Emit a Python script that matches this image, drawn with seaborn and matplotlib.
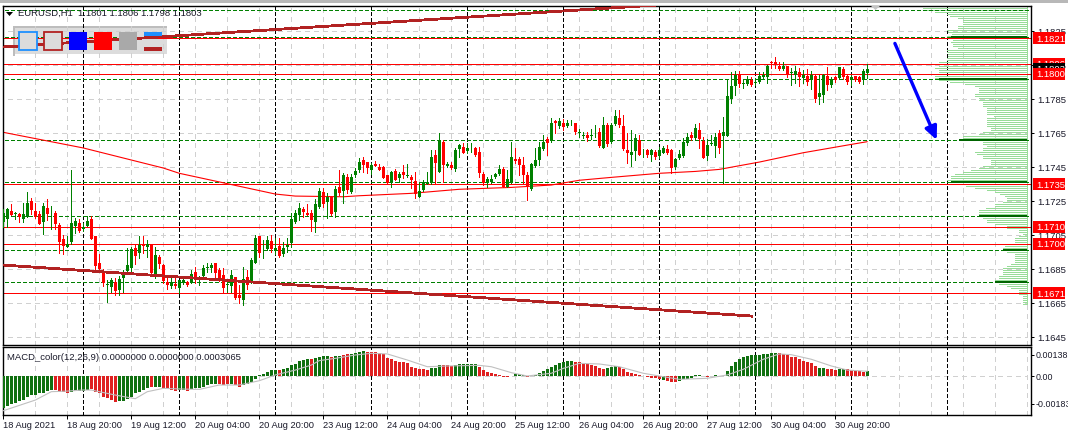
import numpy as np
import pandas as pd
import seaborn as sns
import matplotlib
matplotlib.use("Agg")
import matplotlib.pyplot as plt
from matplotlib.patches import Rectangle, Polygon, FancyArrowPatch

# prices in points (1e-5), one per H1 bar
opens = [117130,117146,117193,117177,117175,117146,117160,117252,117193,117175,117130,117211,117179,117183,117111,117026,116981,117011,117105,117120,
         117089,117105,117144,117046,116885,116842,116760,116744,116775,116728,116799,116840,116856,116975,116944,117001,116979,116995,116817,116920,
         116875,116775,116752,116764,116740,116772,116773,116772,116834,116801,116811,116860,116856,116885,116846,116815,116758,116754,116803,116699,
         116670,116805,116777,116889,117046,116968,116968,117017,116960,116987,116938,116981,117003,117130,117169,117205,117183,117179,117130,117218,
         117305,117246,117273,117187,117332,117312,117391,117305,117405,117434,117493,117479,117434,117470,117450,117454,117405,117366,117430,117387,
         117423,117397,117391,117368,117278,117317,117352,117360,117521,117425,117601,117460,117464,117438,117556,117568,117544,117562,117562,117540,
         117411,117356,117364,117391,117411,117442,117332,117366,117499,117499,117466,117405,117321,117460,117493,117556,117615,117607,117723,117693,
         117711,117693,117721,117711,117652,117636,117640,117636,117650,117658,117566,117699,117601,117705,117738,117693,117552,117523,117546,117611,
         117538,117552,117521,117542,117517,117536,117556,117552,117450,117503,117519,117591,117640,117621,117670,117607,117517,117587,117576,117650,
         117634,117634,117850,117928,117999,117940,117940,117964,117946,117954,117983,117983,118069,118069,118048,118030,118046,118007,117993,118013,
         117977,117987,117964,117987,117866,117875,117987,117934,117979,117973,118030,117987,117964,117987,117979,117964,118007]
highs = [117203,117209,117234,117189,117179,117238,117305,117267,117238,117193,117238,117262,117222,117195,117124,117052,117046,117434,117150,117144,
         117120,117164,117164,117046,116940,116850,116787,116797,116797,116811,116846,116973,116983,116993,117046,117046,117022,116995,116979,116934,
         116879,116803,116811,116797,116787,116811,116781,116846,116866,116811,116875,116885,116889,116885,116856,116856,116768,116846,116803,116758,
         116862,116846,116915,117050,117046,117022,117046,117052,117032,117036,117013,117032,117179,117199,117238,117214,117234,117199,117262,117326,
         117326,117297,117281,117340,117434,117418,117410,117410,117444,117503,117513,117479,117474,117489,117470,117458,117405,117430,117438,117425,
         117464,117468,117405,117425,117366,117376,117425,117552,117552,117650,117611,117483,117483,117566,117587,117591,117591,117591,117572,117572,
         117423,117395,117405,117419,117464,117454,117434,117601,117562,117513,117513,117425,117474,117562,117601,117640,117626,117738,117728,117738,
         117732,117728,117728,117713,117674,117660,117656,117674,117699,117679,117748,117709,117709,117787,117787,117758,117650,117670,117644,117640,
         117556,117558,117556,117552,117568,117576,117579,117556,117503,117552,117621,117650,117660,117705,117709,117626,117615,117640,117650,117670,
         117744,117964,118013,118018,118018,117968,117987,117979,117973,118013,118013,118052,118077,118097,118069,118069,118048,118032,118046,118032,
         118022,118026,118018,117991,117993,117999,118042,117979,117987,118042,118042,117999,117993,117987,117987,118026,118056]
lows = [117101,117097,117169,117146,117130,117130,117160,117175,117150,117116,117058,117140,117089,117089,116944,116940,116981,116999,117062,117069,
        117077,117105,117028,116846,116846,116752,116658,116719,116699,116699,116719,116826,116836,116879,116915,116944,116920,116811,116797,116856,
        116768,116732,116738,116738,116713,116764,116752,116768,116768,116758,116807,116836,116836,116787,116783,116717,116719,116719,116674,116650,
        116640,116732,116768,116885,116924,116915,116964,116954,116940,116924,116928,116954,116983,117124,117140,117160,117169,117073,117071,117209,
        117218,117150,117169,117160,117287,117238,117301,117301,117395,117425,117425,117419,117411,117458,117434,117389,117356,117336,117376,117362,
        117385,117391,117327,117268,117278,117313,117352,117352,117356,117425,117366,117454,117438,117430,117513,117532,117532,117542,117517,117395,
        117346,117336,117356,117385,117405,117332,117332,117356,117474,117405,117356,117258,117317,117454,117464,117552,117523,117601,117650,117679,
        117670,117689,117699,117646,117630,117621,117607,117615,117626,117572,117562,117576,117591,117699,117689,117552,117474,117458,117493,117523,
        117513,117513,117489,117497,117503,117532,117528,117415,117438,117497,117513,117581,117611,117611,117562,117503,117493,117581,117513,117536,
        117356,117634,117826,117875,117920,117915,117934,117928,117934,117948,117973,117944,118032,118032,118022,118022,117979,117934,117944,117928,
        117948,117934,117909,117836,117822,117836,117905,117920,117954,117968,117968,117940,117934,117960,117948,117940,117973]
closes = [117183,117203,117169,117183,117160,117175,117242,117199,117160,117116,117222,117175,117183,117116,117013,116987,116999,117120,117134,117075,
          117097,117134,117028,116870,116850,116768,116764,116787,116723,116793,116826,116875,116968,116928,116995,116987,117001,116826,116934,116881,
          116783,116760,116775,116754,116785,116787,116760,116821,116787,116807,116858,116866,116875,116826,116791,116742,116764,116815,116679,116681,
          116793,116760,116905,117034,116944,116969,117024,116968,116975,116928,116973,116993,117144,117179,117211,117189,117169,117140,117234,117311,
          117234,117273,117175,117320,117301,117405,117316,117391,117430,117483,117464,117444,117464,117458,117434,117389,117360,117423,117376,117411,
          117405,117403,117376,117293,117309,117364,117364,117509,117478,117611,117464,117472,117446,117552,117579,117536,117562,117566,117523,117419,
          117356,117380,117383,117411,117438,117332,117380,117513,117487,117466,117405,117332,117470,117493,117572,117601,117595,117713,117709,117723,
          117685,117711,117724,117660,117656,117640,117621,117640,117654,117576,117699,117585,117699,117752,117699,117558,117532,117542,117625,117523,
          117542,117521,117552,117513,117552,117566,117536,117448,117497,117528,117601,117630,117621,117679,117615,117507,117581,117591,117630,117562,
          117660,117870,117928,117993,117940,117944,117969,117934,117950,117987,117995,118046,118062,118050,118028,118046,117991,118013,118017,117983,
          117993,117952,117991,117850,117885,117993,117934,117971,117964,118038,117979,117952,117979,117964,117954,118017,118030]

# moving average, read at a few bars
ma_bars = [0,20,40,44,68,73,85,89,102,114,127,137,144,152,164,173,179,189,200,212,216]
ma_values = [1.17656,1.17564,1.17446,1.17415,1.17293,1.17281,1.17277,1.17283,1.17297,1.17321,1.17332,1.17346,1.17374,1.17391,1.17415,1.17426,1.17438,1.17481,1.17536,1.17585,1.17601]

# trend lines (bar, price)
upper_trend_bars = [0, 163.4]
upper_trend_prices = [1.18158, 1.18405]
lower_trend_bars = [-1, 187.2]
lower_trend_prices = [1.16877, 1.16575]

red_levels = [1.1821, 1.1806, 1.1800, 1.1735, 1.1710, 1.1700, 1.1671]
green_levels = [1.18375, 1.18214, 1.17968, 1.17608, 1.17365, 1.17162, 1.16962, 1.16774]
tag_levels = [1.1821, 1.1806, 1.1803, 1.1800, 1.1735, 1.1710, 1.1700, 1.1671]

# market profile, rows from the top of the chart downwards
profile_volume = [100,104,100,92,80,77,69,64,64,64,69,69,80,79,75,80,76,74,76,74,74,69,80,80,79,79,80,80,88,88,88,92,88,88,88,92,92,88,77,62,
                  52,48,48,48,52,52,48,48,44,44,44,40,40,40,40,33,40,40,40,40,40,36,36,44,48,64,64,68,44,44,40,44,44,52,50,44,44,36,36,36,
                  44,48,56,64,72,76,76,80,76,72,61,52,40,32,27,22,20,20,24,32,32,41,48,48,48,48,44,40,40,32,20,20,8,8,4,8,12,12,12,20,
                  22,24,24,20,12,12,12,12,12,16,20,24,24,24,24,28,28,32,32,28,20,16,8,8,8,4,4,4,4,4]
profile_top = 1.18399
profile_step = 0.0001176

# MACD histogram and signal, points (1e-5)
macd_values = [-212,-197,-186,-175,-164,-158,-140,-125,-125,-114,-110,-99,-92,-92,-103,-107,-114,-107,-101,-99,
               -96,-92,-85,-103,-114,-136,-147,-158,-169,-166,-164,-153,-136,-114,-103,-92,-81,-74,-70,-74,
               -77,-81,-92,-96,-92,-92,-96,-88,-81,-77,-74,-59,-55,-53,-55,-57,-55,-53,-57,-70,
               -61,-50,-39,-22,7,11,28,39,39,39,44,50,72,79,99,105,110,112,116,127,
               131,131,123,131,134,140,145,145,153,160,164,158,158,155,149,145,116,110,101,94,
               90,83,61,50,44,44,39,55,55,72,72,72,66,74,79,79,79,79,79,61,
               39,26,18,13,4,-9,-9,1,11,13,4,-9,2,9,22,33,44,61,72,83,
               94,96,99,92,92,79,79,70,66,53,44,53,61,66,57,44,28,18,15,9,
               2,-4,-11,-15,-22,-26,-31,-37,-37,-31,-22,-20,-13,4,4,1,-4,1,4,1,
               2,35,66,94,112,123,131,136,140,140,142,145,149,153,153,145,136,127,123,110,
               101,94,88,66,53,53,48,46,39,48,44,44,39,35,31,28,35]
macd_colors = ("G"*13+"R"*4+"G"*5+"R"*7+"G"*8+"R"+"G"*2+"R"*4+"G"*2+"R"+"G"*7+"R"*3+"G"+"R"*2+"G"*9+"R"+"G"*7+"R"
               +"G"*4+"R"+"G"*2+"R"*2+"G"*4+"R"*16+"G"*3+"R"*3+"G"*6+"R"*9+"G"*3+"R"+"G"*11+"R"*8+"G"*3+"R"*11+"G"+"R"*3
               +"G"*6+"R"*2+"G"*2+"R"+"G"*14+"R"*10+"G"*2+"R"*3+"G"*2+"R"*5+"G")
signal_bars = [0,4,8,12,16,20,22,28,33,36,40,44,49,54,59,64,68,73,77,79,83,88,92,96,101,106,111,119,122,127,131,137,140,144,149,154,160,164,169,176,181,185,190,194,197,202,207,211,216]
signal_values = [-228,-193,-158,-103,-99,-92,-92,-125,-149,-103,-81,-85,-88,-59,-59,-31,7,39,72,101,116,138,149,145,105,61,66,70,61,22,0,18,50,83,79,61,18,0,-22,-15,7,44,110,145,140,110,66,39,31]

x_labels = ["18 Aug 2021","18 Aug 20:00","19 Aug 12:00","20 Aug 04:00","20 Aug 20:00","23 Aug 12:00","24 Aug 04:00",
            "24 Aug 20:00","25 Aug 12:00","26 Aug 04:00","26 Aug 20:00","27 Aug 12:00","30 Aug 04:00","30 Aug 20:00"]
price_ticks = [1.1825,1.1805,1.1785,1.1765,1.1745,1.1725,1.1705,1.1685,1.1665,1.1645]
macd_ticks = [0.00138, 0.0, -0.00183]
macd_tick_labels = ["0.00138", "0.00", "-0.00183"]

sns.set_theme(style="white")
plt.rcParams["font.family"] = ["Liberation Sans", "DejaVu Sans"]
plt.rcParams["lines.scale_dashes"] = False
plt.rcParams["lines.antialiased"] = False

W, H = 1068, 432
PX = 0.72  # one pixel in points
GREEN, RED, FIREBRICK = "#008000", "#ff0000", "#b22222"
GRID = "#d0d0d0"
TXT = "#1a1a2a"
FS = 6.8

def fx(px):
    return px / W

def fy(py):
    return 1 - py / H

fig = plt.figure(figsize=(W / 100, H / 100), dpi=100, facecolor="white")
ax = fig.add_axes([fx(2.5), fy(344.5), fx(1030.5) - fx(2.5), fy(5.5) - fy(344.5)])
ax2 = fig.add_axes([fx(2.5), fy(415), fx(1030.5) - fx(2.5), fy(347) - fy(415)], sharex=ax)

o, h, l, c = [np.array(a) / 1e5 for a in (opens, highs, lows, closes)]
bars = np.arange(len(o))
up = c >= o
colors = np.where(up, GREEN, RED)
right_edge = 255.9

for a in (ax, ax2):
    a.set_axisbelow(False)
    a.vlines(np.arange(0, 257, 8), 0, 1, transform=a.get_xaxis_transform(), color=GRID, lw=PX, ls=(0, (3.2, 3.2)), zorder=1)
    a.vlines(np.arange(20, 257, 24), 0, 1, transform=a.get_xaxis_transform(), color="black", lw=PX, ls=(0, (2.4, 2.0)), zorder=1.5)
    for s in a.spines.values():
        s.set_color("black")
        s.set_linewidth(1.0)

ax.hlines(price_ticks, -1, right_edge, color=GRID, lw=PX, ls=(0, (3.2, 3.2)), zorder=1)
ax2.hlines([0], -1, right_edge, color=GRID, lw=PX, ls=(0, (3.2, 3.2)), zorder=1)

# toolbar background sits under the lines
ax.add_patch(Rectangle((fx(13), fy(54)), 154 / W, 28 / H, transform=fig.transFigure, fc="#dcdcdc", ec="none", zorder=0.5))
ax.add_patch(Rectangle((fx(13), fy(28)), 154 / W, 2 / H, transform=fig.transFigure, fc="#bdbdbd", ec="none", zorder=0.6))
ax.add_patch(Rectangle((fx(13), fy(56)), 2 / W, 30 / H, transform=fig.transFigure, fc="#bdbdbd", ec="none", zorder=0.6))

# market profile
levels = profile_top - profile_step * np.arange(len(profile_volume))
vol = np.array(profile_volume) / 4
ax.hlines(levels, right_edge - vol, right_edge, color="#98dc98", lw=PX, zorder=1.8)
ax.vlines([right_edge], levels[-1], levels[0], color="#98dc98", lw=PX, zorder=1.8)

ax.hlines(green_levels, -1, 258, color=GREEN, lw=PX, ls=(0, (2.6, 2.0)), zorder=2)
for lev in green_levels[1:]:
    k = np.argmin(np.abs(levels - lev))
    ax.hlines(lev, right_edge - vol[k], right_edge, color="#006400", lw=1.2, zorder=2.1)
ax.hlines(red_levels, -1, 258, color=RED, lw=PX, zorder=2.2)

sns.lineplot(x=ma_bars, y=ma_values, ax=ax, color=RED, lw=0.8, estimator=None, sort=False, antialiased=True, zorder=2.3)

# candles
ax.vlines(bars, l, h, colors=colors, lw=PX, zorder=3, antialiased=False)
ax.bar(bars, np.maximum(np.abs(c - o), 0.00002), bottom=np.minimum(o, c), width=0.75, color=colors, linewidth=0, antialiased=False, zorder=3.1)

sns.lineplot(x=upper_trend_bars, y=upper_trend_prices, ax=ax, color=FIREBRICK, lw=1.3, estimator=None, zorder=4)
sns.lineplot(x=lower_trend_bars, y=lower_trend_prices, ax=ax, color=FIREBRICK, lw=1.3, estimator=None, zorder=4)

ax.add_patch(FancyArrowPatch((222.9, 1.18179), (233.35, 1.17611), arrowstyle="-|>,head_length=0.65,head_width=0.3",
                             mutation_scale=12, color="#0000ff", lw=2.4, shrinkA=0, shrinkB=0, zorder=5))

ax.set_xlim(-0.2, 256.8)
ax.set_ylim(1.16408, 1.18402)
ax.set_yticks(price_ticks)
ax.set_yticklabels([f"{t:.4f}" for t in price_ticks])
ax.yaxis.tick_right()
ax.tick_params(axis="y", length=2.5, width=PX, pad=2.5, labelsize=FS, colors=TXT, color="black")
ax.tick_params(axis="x", bottom=False, labelbottom=False)
ax.set_xlabel("")
ax.set_ylabel("")

# price tags on the right axis
tr = ax.get_yaxis_transform()
for i, lev in enumerate(tag_levels):
    col = "black" if lev == 1.1803 else RED
    ax.add_patch(Rectangle((1.0024, lev - 0.00036), 0.0311, 0.00072, transform=tr, fc=col, ec="none", clip_on=False, zorder=6 + i * 0.1))
    ax.text(1.0056, lev, f"{lev:.4f}", transform=tr, color="white", fontsize=FS, va="center_baseline", ha="left", clip_on=False, zorder=6.05 + i * 0.1)

# MACD panel
df_macd = pd.DataFrame({"bar": bars, "macd": np.array(macd_values) / 1e5, "col": list(macd_colors)})
sns.barplot(data=df_macd, x="bar", y="macd", hue="col", palette={"G": GREEN, "R": RED}, native_scale=True, dodge=False,
            errorbar=None, width=0.75, legend=False, ax=ax2, linewidth=0, antialiased=False, zorder=3)
sns.lineplot(x=signal_bars, y=np.array(signal_values) / 1e5, ax=ax2, color="#c0c0c0", lw=0.8, estimator=None, antialiased=True, zorder=4)
ax2.set_xlim(-0.2, 256.8)
ax2.set_ylim(-0.00256, 0.001905)
ax2.set_yticks(macd_ticks)
ax2.set_yticklabels(macd_tick_labels)
ax2.yaxis.tick_right()
ax2.tick_params(axis="y", length=2.5, width=PX, pad=1.5, labelsize=FS - 0.4, colors=TXT, color="black")
ax2.set_xticks(np.arange(len(x_labels)) * 16)
ax2.set_xticklabels(x_labels, ha="left")
ax2.tick_params(axis="x", length=3, width=PX, pad=1.0, labelsize=FS - 0.1, colors=TXT, color="black", bottom=True)
ax2.set_xlabel("")
ax2.set_ylabel("")

# text and chrome on top
fig.text(fx(18), fy(13), "EURUSD,H1  1.1801 1.1806 1.1798 1.1803", fontsize=FS, color=TXT, va="center", ha="left", zorder=8)
fig.text(fx(7), fy(357), "MACD_color(12,26,9) 0.0000000 0.0000000 0.0003065", fontsize=FS, color=TXT, va="center", ha="left", zorder=8)
fig.add_artist(Polygon([(fx(6), fy(12)), (fx(13), fy(12)), (fx(9.5), fy(16))], transform=fig.transFigure, fc="black", ec="none"))
fig.add_artist(Polygon([(fx(871), fy(6)), (fx(880), fy(6)), (fx(875.5), fy(10))], transform=fig.transFigure, fc="#c4c4c4", ec="none"))
fig.add_artist(Rectangle((0, fy(2.5)), 1, 2.5 / H, transform=fig.transFigure, fc="#b8b8b8", ec="none"))

buttons = [(19, "#dcdcdc", "#1e90ff"), (44, "#dcdcdc", FIREBRICK), (69, "#0000ff", None), (94, "#ff0000", None), (119, "#a9a9a9", None)]
for bx, fc, ec in buttons:
    fig.add_artist(Rectangle((fx(bx), fy(50)), 18 / W, 18 / H, transform=fig.transFigure, fc=fc, ec=ec if ec else "none", lw=1.3 if ec else 0, zorder=7))
fig.add_artist(Rectangle((fx(144), fy(36)), 18 / W, 4 / H, transform=fig.transFigure, fc="#1e90ff", ec="none", zorder=7))
fig.add_artist(Rectangle((fx(144), fy(51)), 18 / W, 4 / H, transform=fig.transFigure, fc=FIREBRICK, ec="none", zorder=7))

fig.savefig("out.png", dpi=100, facecolor="white")
